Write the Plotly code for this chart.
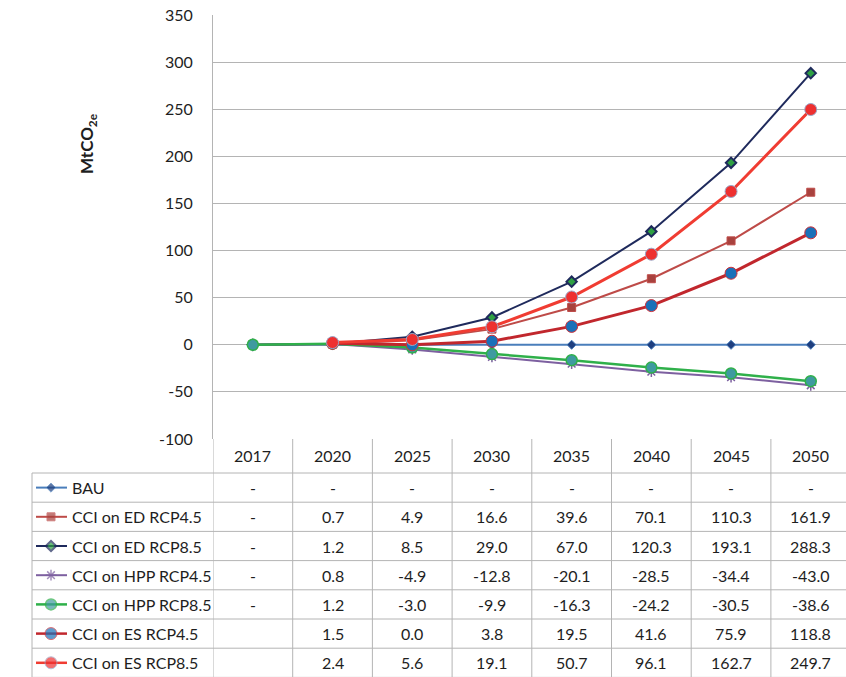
import plotly.graph_objects as go

# ---------------- data ----------------
years = ["2017", "2020", "2025", "2030", "2035", "2040", "2045", "2050"]
series_names = ["BAU", "CCI on ED RCP4.5", "CCI on ED RCP8.5", "CCI on HPP RCP4.5",
                "CCI on HPP RCP8.5", "CCI on ES RCP4.5", "CCI on ES RCP8.5"]
bau    = [0, 0, 0, 0, 0, 0, 0, 0]
ed45   = [0, 0.7, 4.9, 16.6, 39.6, 70.1, 110.3, 161.9]
ed85   = [0, 1.2, 8.5, 29.0, 67.0, 120.3, 193.1, 288.3]
hpp45  = [0, 0.8, -4.9, -12.8, -20.1, -28.5, -34.4, -43.0]
hpp85  = [0, 1.2, -3.0, -9.9, -16.3, -24.2, -30.5, -38.6]
es45   = [None, 1.5, 0.0, 3.8, 19.5, 41.6, 75.9, 118.8]
es85   = [None, 2.4, 5.6, 19.1, 50.7, 96.1, 162.7, 249.7]
y_ticks = [-100, -50, 0, 50, 100, 150, 200, 250, 300, 350]
y_tick_labels = ["-100", "-50", "0", "50", "100", "150", "200", "250", "300", "350"]

all_values = [bau, ed45, ed85, hpp45, hpp85, es45, es85]

styles = [
    dict(line=dict(color="#4a7ebb", width=2),
         marker=dict(symbol="diamond", size=7, color="#1f3f7f", line=dict(color="#4a7ebb", width=1))),
    dict(line=dict(color="#be4b48", width=2),
         marker=dict(symbol="square", size=8, color="#a8423e", line=dict(color="#be4b48", width=1))),
    dict(line=dict(color="#1f2a5c", width=2),
         marker=dict(symbol="diamond", size=8, color="#2ea043", line=dict(color="#1f2a5c", width=2))),
    dict(line=dict(color="#7d60a0", width=2),
         marker=dict(symbol="asterisk-open", size=9, color="#7d60a0", line=dict(color="#7d60a0", width=1.5))),
    dict(line=dict(color="#2fb04a", width=2.5),
         marker=dict(symbol="circle", size=11, color="#3f9aa0", line=dict(color="#2fb04a", width=1.5))),
    dict(line=dict(color="#c1272d", width=3),
         marker=dict(symbol="circle", size=12, color="#1a70b8", line=dict(color="#d0323a", width=1))),
    dict(line=dict(color="#f03c32", width=3),
         marker=dict(symbol="circle", size=12, color="#ee3030", line=dict(color="#9aa8c8", width=1))),
]

# ---------------- layout geometry ----------------
W, H = 846, 677
plot_left, plot_top, plot_bottom = 213, 15, 439
slot = 79.7
legend_left = 32
header_h = 34
row_h = 29.2
table_h = H - plot_bottom
FONT = "Lato, 'Open Sans', sans-serif"
TXT = "#1e1e1e"
GRID = "#b4b4b4"

fig = go.Figure()

for name, vals, st in zip(series_names, all_values, styles):
    fig.add_trace(go.Scatter(x=years, y=vals, name=name, mode="lines+markers",
                             line=st["line"], marker=st["marker"],
                             xaxis="x", yaxis="y", showlegend=False, cliponaxis=False))

# legend keys inside the table (pixel axis x2 / y2)
for i, st in enumerate(styles):
    yc = header_h + row_h * (i + 0.5)
    fig.add_trace(go.Scatter(x=[36, 51, 67], y=[yc, yc, yc], mode="lines+markers",
                             line=st["line"] | dict(width=min(st["line"]["width"], 2.5)),
                             marker=st["marker"] | dict(size=[0, st["marker"]["size"], 0]),
                             xaxis="x2", yaxis="y2", showlegend=False, hoverinfo="skip"))

shapes = []
annotations = []

# table vertical lines (data columns)
for k in range(len(years) + 1):
    shapes.append(dict(type="line", xref="x", yref="y2", x0=k - 0.5, x1=k - 0.5, y0=0, y1=table_h,
                       line=dict(color=GRID, width=1)))
# legend column left border
shapes.append(dict(type="line", xref="x2", yref="y2", x0=legend_left, x1=legend_left,
                   y0=header_h, y1=table_h, line=dict(color=GRID, width=1)))
# table horizontal lines
for i in range(len(series_names) + 1):
    yy = header_h + row_h * i
    shapes.append(dict(type="line", xref="x2", yref="y2", x0=legend_left, x1=W, y0=yy, y1=yy,
                       line=dict(color=GRID, width=1)))

# header years (category index positions)
for j, yr in enumerate(years):
    annotations.append(dict(x=j, y=header_h / 2, xref="x", yref="y2", text=yr, showarrow=False,
                            font=dict(family=FONT, size=16, color=TXT)))

def fmt(v):
    if v is None:
        return ""
    if isinstance(v, int) and v == 0:
        return "-"
    return f"{v:.1f}"

for i, (name, vals) in enumerate(zip(series_names, all_values)):
    yc = header_h + row_h * (i + 0.5)
    annotations.append(dict(x=70, y=yc, xref="x2", yref="y2", text=name, showarrow=False,
                            xanchor="left", font=dict(family=FONT, size=16, color=TXT)))
    for j, v in enumerate(vals):
        label = fmt(v)
        if not label:
            continue
        annotations.append(dict(x=j, y=yc, xref="x", yref="y2", text=label, showarrow=False,
                                font=dict(family=FONT, size=16, color=TXT)))

# y-axis title
annotations.append(dict(x=88 / W, y=1 - 144 / H, xref="paper", yref="paper",
                        xanchor="center", yanchor="middle",
                        text="<b>MtCO<sub>2e</sub></b>", textangle=-90, showarrow=False,
                        font=dict(family=FONT, size=17, color=TXT)))

fig.update_layout(
    width=W, height=H,
    margin=dict(l=0, r=0, t=0, b=0, autoexpand=False),
    paper_bgcolor="white", plot_bgcolor="white",
    xaxis=dict(domain=[plot_left / W, 1], type="category",
               range=[-0.5, -0.5 + (W - plot_left) / slot],
               showticklabels=False, showgrid=False, zeroline=False, showline=False,
               anchor="y", fixedrange=True, automargin=False),
    yaxis=dict(domain=[1 - plot_bottom / H, 1 - plot_top / H], range=[-100, 350],
               tickvals=y_ticks, ticktext=y_tick_labels, showgrid=True, gridcolor=GRID, gridwidth=1,
               zeroline=False, showline=True, linecolor=GRID, linewidth=1,
               ticks="", ticklabelstandoff=16, automargin=False,
               tickfont=dict(family=FONT, size=16, color=TXT), anchor="x"),
    xaxis2=dict(domain=[0, 1], range=[0, W], visible=False, anchor="y2", automargin=False),
    yaxis2=dict(domain=[0, 1 - plot_bottom / H], range=[table_h, 0], visible=False, anchor="x2",
                automargin=False),
    shapes=shapes,
    annotations=annotations,
)

fig.write_html("out.html", config={"displayModeBar": False},
               post_script="document.body.style.margin='0';document.body.style.overflow='hidden';")
